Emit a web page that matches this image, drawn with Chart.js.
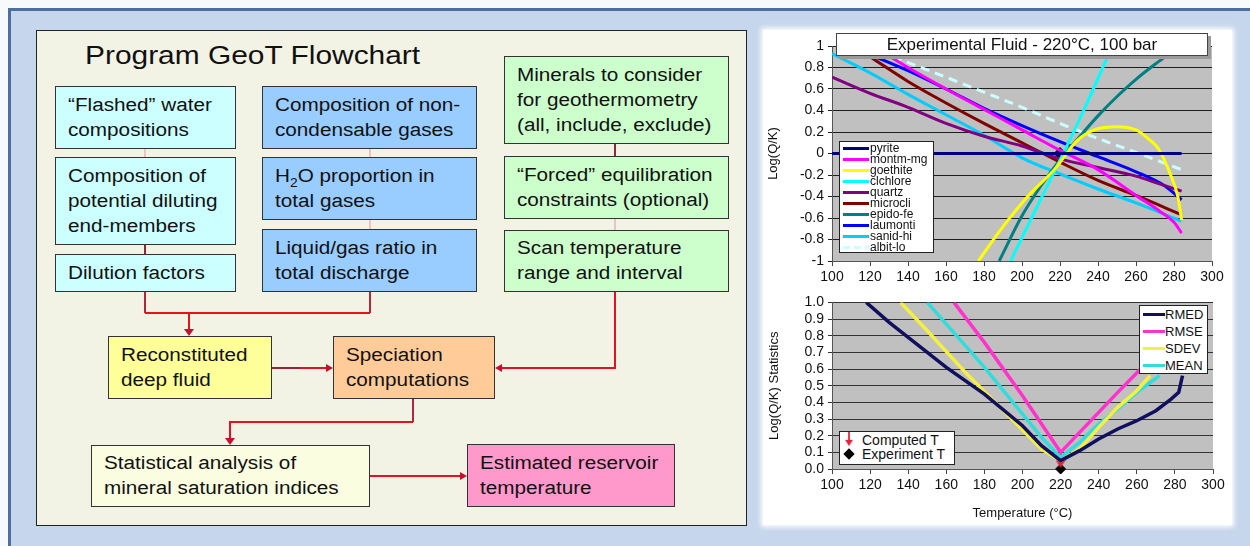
<!DOCTYPE html>
<html>
<head>
<meta charset="utf-8">
<script src="https://cdn.jsdelivr.net/npm/chart.js@4"></script>
<style>
body{margin:0;width:1250px;height:546px;overflow:hidden;background:#f7f9fb;font-family:"Liberation Sans",Arial,sans-serif;position:relative}
#frame{position:absolute;left:8px;top:8px;right:0;bottom:0;background:#c6d6ec;border-top:3px solid #4e6e9e;border-left:3px solid #4e6e9e}
#flow{position:absolute;left:36px;top:30px;width:709px;height:494px;background:#f3f3e5;border:1px solid #222}
#title{position:absolute;left:85px;top:38px;font-size:26px;line-height:34px;color:#111;transform:scaleX(1.15);transform-origin:left center;white-space:nowrap}
.box{position:absolute;border:1.5px solid #333;box-sizing:border-box;display:flex;align-items:center;padding-left:12px;font-size:18px;line-height:25px;color:#111;white-space:nowrap}
.box span{display:inline-block;transform:scaleX(1.15);transform-origin:left center}
#wires{position:absolute;left:0;top:0}
#panel{position:absolute;left:763px;top:30px;width:469px;height:495px;background:#fff;box-shadow:0 0 5px 2px #fff}
canvas{position:absolute}
.lg{position:absolute;background:#fff;border:1px solid #222;color:#111}
.lg .row{position:relative;white-space:nowrap}
.sw{position:absolute;left:3px;height:3px}
#chartTitle{position:absolute;left:836px;top:33px;width:372px;height:23px;box-sizing:border-box;background:#fff;border:1px solid #444;box-shadow:3px 3px 0 #9a9a9a;text-align:center;font-size:17px;line-height:21px;color:#111}
</style>
</head>
<body>
<div id="frame"></div>
<div id="flow"></div>
<div id="title">Program GeoT Flowchart</div>

<div class="box" style="left:55px;top:86px;width:181px;height:63px;background:#ccffff"><span>“Flashed” water<br>compositions</span></div>
<div class="box" style="left:55px;top:157px;width:181px;height:88px;background:#ccffff"><span>Composition of<br>potential diluting<br>end-members</span></div>
<div class="box" style="left:55px;top:254px;width:181px;height:38px;background:#ccffff"><span>Dilution factors</span></div>

<div class="box" style="left:262px;top:86px;width:215px;height:63px;background:#99ccff"><span>Composition of non-<br>condensable gases</span></div>
<div class="box" style="left:262px;top:157px;width:215px;height:63px;background:#99ccff"><span>H<sub style="font-size:12px;line-height:0">2</sub>O proportion in<br>total gases</span></div>
<div class="box" style="left:262px;top:229px;width:215px;height:63px;background:#99ccff"><span>Liquid/gas ratio in<br>total discharge</span></div>

<div class="box" style="left:504px;top:56px;width:225px;height:88px;background:#ccffcc"><span>Minerals to consider<br>for geothermometry<br>(all, include, exclude)</span></div>
<div class="box" style="left:504px;top:156px;width:225px;height:63px;background:#ccffcc"><span>“Forced” equilibration<br>constraints (optional)</span></div>
<div class="box" style="left:504px;top:230px;width:225px;height:62px;background:#ccffcc"><span>Scan temperature<br>range and interval</span></div>

<div class="box" style="left:108px;top:336px;width:164px;height:63px;background:#ffff99"><span>Reconstituted<br>deep fluid</span></div>
<div class="box" style="left:333px;top:336px;width:162px;height:63px;background:#ffcc99"><span>Speciation<br>computations</span></div>
<div class="box" style="left:91px;top:445px;width:279px;height:62px;background:#fbfde0"><span>Statistical analysis of<br>mineral saturation indices</span></div>
<div class="box" style="left:467px;top:444px;width:208px;height:63px;background:#ff99cc"><span>Estimated reservoir<br>temperature</span></div>

<svg id="wires" width="760" height="546">
  <g stroke-width="2" fill="none">
    <path d="M145 149V157M370 149V157M370 220V229M615 219V230" stroke="#e8c4c4"/>
    <path d="M145 245V254M615 144V156" stroke="#8a2a3a"/>
    <path d="M145 292V313M370 292V313" stroke="#b0283e"/>
    <path d="M145 313H370M189 313V330" stroke="#e8101e"/>
    <path d="M272 368H300" stroke="#9a2236"/>
    <path d="M300 368H328" stroke="#e8101e"/>
    <path d="M615 292V368H500" stroke="#e8101e"/>
    <path d="M413 399V422" stroke="#b0283e"/>
    <path d="M413 422H230V439" stroke="#e8101e"/>
    <path d="M370 476H462" stroke="#e8101e"/>
  </g>
  <g fill="#c8102e">
    <path d="M184 329H194L189 336Z"/>
    <path d="M326 364V372L333 368Z"/>
    <path d="M502 364V372L495 368Z"/>
    <path d="M225 438H235L230 445Z"/>
    <path d="M460 472V480L467 476Z"/>
  </g>
</svg>

<div id="panel"></div>
<canvas id="fluidChart" width="469" height="255" style="left:763px;top:30px"></canvas>
<canvas id="statChart" width="469" height="235" style="left:763px;top:290px"></canvas>
<div id="chartTitle">Experimental Fluid - 220°C, 100 bar</div>
<div id="fluidLegend" class="lg" style="left:839px;top:141px;width:95px;height:112px"></div>
<div id="statLegend" class="lg" style="left:1139px;top:305px;width:69px;height:69px"></div>
<div id="markLegend" class="lg" style="left:839px;top:431px;width:114px;height:32px"></div>

<script>
// ---- top chart: Log(Q/K) of each mineral vs temperature ----
const pyriteT = [100, 284];
const pyriteQK = [0, 0];
const montmT = [129, 140, 160, 180, 200, 220, 240, 260, 272, 280, 284];
const montmQK = [0.92, 0.80, 0.60, 0.41, 0.22, 0.03, -0.15, -0.39, -0.53, -0.64, -0.74];
const goethiteT = [177, 190, 203, 217, 229, 238, 250, 260, 267, 272, 278, 282, 284];
const goethiteQK = [-1, -0.68, -0.40, -0.15, 0.12, 0.22, 0.25, 0.22, 0.13, 0.04, -0.19, -0.40, -0.62];
const clchloreT = [194, 205, 215, 225, 235, 245, 248];
const clchloreQK = [-1, -0.6, -0.24, 0.12, 0.50, 0.90, 1.02];
const quartzT = [100, 120, 140, 160, 180, 200, 220, 240, 260, 272, 284];
const quartzQK = [0.71, 0.56, 0.43, 0.28, 0.16, 0.07, -0.05, -0.13, -0.21, -0.28, -0.35];
const microcliT = [120, 140, 160, 180, 200, 220, 240, 260, 284];
const microcliQK = [0.90, 0.67, 0.47, 0.28, 0.10, -0.08, -0.25, -0.39, -0.57];
const epidoT = [188, 200, 210, 220, 230, 240, 250, 260, 270, 280, 284];
const epidoQK = [-1, -0.58, -0.30, -0.06, 0.15, 0.35, 0.53, 0.69, 0.83, 0.96, 1.02];
const laumontiT = [120, 140, 160, 180, 200, 220, 240, 260, 275, 284];
const laumontiQK = [0.92, 0.77, 0.60, 0.42, 0.26, 0.11, -0.03, -0.17, -0.30, -0.43];
const sanidT = [100, 120, 140, 160, 180, 200, 220, 240, 260, 284];
const sanidQK = [0.93, 0.75, 0.55, 0.36, 0.17, -0.04, -0.19, -0.33, -0.46, -0.63];
const albitT = [132, 160, 180, 200, 220, 240, 260, 284];
const albitQK = [0.90, 0.71, 0.57, 0.43, 0.28, 0.14, 0.01, -0.15];

const mineralNames = ['pyrite', 'montm-mg', 'goethite', 'clchlore', 'quartz', 'microcli', 'epido-fe', 'laumonti', 'sanid-hi', 'albit-lo'];
const mineralT = [pyriteT, montmT, goethiteT, clchloreT, quartzT, microcliT, epidoT, laumontiT, sanidT, albitT];
const mineralQK = [pyriteQK, montmQK, goethiteQK, clchloreQK, quartzQK, microcliQK, epidoQK, laumontiQK, sanidQK, albitQK];
const mineralColors = ['#000080', '#ff00ff', '#ffff00', '#00ffff', '#800080', '#800000', '#008080', '#0000ff', '#00ccff', '#ccffff'];

const experimentT = 220;
const experimentQK = 0;

// ---- bottom chart: statistics vs temperature ----
const rmedT = [118, 130, 140, 160, 180, 200, 210, 220, 230, 240, 250, 260, 270, 278, 282, 284];
const rmedV = [1.0, 0.88, 0.79, 0.61, 0.45, 0.26, 0.14, 0.05, 0.11, 0.18, 0.24, 0.29, 0.35, 0.42, 0.46, 0.56];
const rmseT = [164, 180, 200, 210, 220, 230, 240, 250, 262, 268];
const rmseV = [1.0, 0.76, 0.44, 0.27, 0.10, 0.22, 0.34, 0.46, 0.60, 0.68];
const sdevT = [136, 150, 170, 190, 210, 220, 230, 240, 250, 260, 267];
const sdevV = [1.0, 0.83, 0.58, 0.35, 0.12, 0.05, 0.12, 0.25, 0.37, 0.47, 0.56];
const meanT = [150, 160, 170, 180, 190, 200, 210, 220, 230, 240, 250, 260, 272];
const meanV = [1.0, 0.87, 0.74, 0.61, 0.47, 0.33, 0.19, 0.07, 0.16, 0.27, 0.36, 0.46, 0.56];

const statNames = ['RMED', 'RMSE', 'SDEV', 'MEAN'];
const statT = [rmedT, rmseT, sdevT, meanT];
const statV = [rmedV, rmseV, sdevV, meanV];
const statColors = ['#10105e', '#ff33cc', '#f4f040', '#33dcdc'];

const computedT = 220;
const computedV = 0.06;

const tempTicks = [100, 120, 140, 160, 180, 200, 220, 240, 260, 280, 300];

const pts = (xs, ys) => xs.map((x, i) => ({ x: x, y: ys[i] }));

const plotBg = {
  id: 'plotBg',
  beforeDraw(c) {
    const a = c.chartArea, ctx = c.ctx;
    ctx.save();
    ctx.fillStyle = '#c0c0c0';
    ctx.fillRect(a.left, a.top, a.width, a.height);
    ctx.restore();
  }
};

// small red down-arrow used as point style
const arrow = document.createElement('canvas');
arrow.width = 10; arrow.height = 18;
(() => {
  const g = arrow.getContext('2d');
  g.strokeStyle = '#e8203a'; g.lineWidth = 2;
  g.beginPath(); g.moveTo(5, 0); g.lineTo(5, 11); g.stroke();
  g.fillStyle = '#e8203a';
  g.beginPath(); g.moveTo(0, 10); g.lineTo(10, 10); g.lineTo(5, 18); g.closePath(); g.fill();
})();

const tickFont = { family: '"Liberation Sans", Arial, sans-serif', size: 14 };
const titleFont = { family: '"Liberation Sans", Arial, sans-serif', size: 13 };

function xAxis(h, withTitle) {
  return {
    type: 'linear', min: 100, max: 300,
    afterBuildTicks: s => { s.ticks = tempTicks.map(v => ({ value: v })); },
    ticks: { font: tickFont, color: '#111', padding: 3, maxRotation: 0, autoSkip: false },
    grid: { drawOnChartArea: false, color: '#444', tickLength: 5 },
    border: { color: '#555' },
    title: withTitle ? { display: true, text: 'Temperature (°C)', font: titleFont, color: '#111', padding: { top: 6 } } : { display: false },
    afterFit: s => { s.height = h; }
  };
}

// top chart
new Chart(document.getElementById('fluidChart'), {
  type: 'line',
  data: {
    datasets: mineralNames.map((n, i) => ({
      label: n,
      data: pts(mineralT[i], mineralQK[i]),
      borderColor: mineralColors[i],
      borderWidth: 3,
      borderDash: n === 'albit-lo' ? [9, 6] : [],
      pointRadius: 0,
      cubicInterpolationMode: 'monotone',
      clip: 0
    })).concat([{
      label: 'Experiment T',
      data: [{ x: experimentT, y: experimentQK }],
      showLine: false,
      pointStyle: 'rectRot',
      pointRadius: 6,
      backgroundColor: '#000',
      borderColor: '#000'
    }])
  },
  options: {
    responsive: false,
    animation: false,
    layout: { padding: { top: 16, right: 20, left: 0, bottom: 0 } },
    plugins: { legend: { display: false }, tooltip: { enabled: false } },
    scales: {
      x: xAxis(24, false),
      y: {
        min: -1, max: 1,
        ticks: { stepSize: 0.2, autoSkip: false, font: tickFont, color: '#111', padding: 4, callback: v => String(Number(v.toFixed(1))) },
        grid: { color: '#1e1e1e', tickLength: 4 },
        border: { color: '#555' },
        title: { display: true, text: 'Log(Q/K)', font: titleFont, color: '#111', padding: { top: 3, bottom: 0 } },
        afterFit: s => { s.width = 69; }
      }
    }
  },
  plugins: [plotBg]
});

// bottom chart
new Chart(document.getElementById('statChart'), {
  type: 'line',
  data: {
    datasets: statNames.map((n, i) => ({
      label: n,
      data: pts(statT[i], statV[i]),
      borderColor: statColors[i],
      borderWidth: 3.5,
      pointRadius: 0,
      tension: 0,
      clip: 0
    })).concat([{
      label: 'Computed T',
      data: [{ x: computedT, y: computedV }],
      showLine: false,
      pointStyle: arrow
    }, {
      label: 'Experiment T',
      data: [{ x: experimentT, y: 0 }],
      showLine: false,
      pointStyle: 'rectRot',
      pointRadius: 5,
      backgroundColor: '#000',
      borderColor: '#000',
      clip: false
    }])
  },
  options: {
    responsive: false,
    animation: false,
    layout: { padding: { top: 11, right: 19, left: 0, bottom: 0 } },
    plugins: { legend: { display: false }, tooltip: { enabled: false } },
    scales: {
      x: xAxis(56, true),
      y: {
        min: 0, max: 1,
        ticks: { stepSize: 0.1, autoSkip: false, font: tickFont, color: '#111', padding: 4, callback: v => v.toFixed(1) },
        grid: { color: '#333', tickLength: 4 },
        border: { color: '#555' },
        title: { display: true, text: 'Log(Q/K) Statistics', font: titleFont, color: '#111', padding: { top: 4, bottom: 0 } },
        afterFit: s => { s.width = 69; }
      }
    }
  },
  plugins: [plotBg]
});

// legends built from series names and colours
function fillLegend(el, names, colors, rowH, fontSize, swW, textLeft, padTop) {
  el.style.paddingTop = padTop + 'px';
  el.style.boxSizing = 'border-box';
  names.forEach((n, i) => {
    const row = document.createElement('div');
    row.className = 'row';
    row.style.height = rowH + 'px';
    row.style.lineHeight = rowH + 'px';
    row.style.fontSize = fontSize + 'px';
    row.style.paddingLeft = textLeft + 'px';
    const sw = document.createElement('div');
    sw.className = 'sw';
    sw.style.width = swW + 'px';
    sw.style.top = (rowH / 2 - 1.5) + 'px';
    if (n === 'albit-lo') {
      sw.style.background = 'repeating-linear-gradient(90deg,' + colors[i] + ' 0 7px, transparent 7px 11px)';
    } else {
      sw.style.background = colors[i];
    }
    row.appendChild(sw);
    row.appendChild(document.createTextNode(n));
    el.appendChild(row);
  });
}
fillLegend(document.getElementById('fluidLegend'), mineralNames, mineralColors, 11, 12, 26, 30, 1);
fillLegend(document.getElementById('statLegend'), statNames, statColors, 17, 13, 22, 25, 0);

const mk = document.getElementById('markLegend');
mk.style.fontSize = '14px';
mk.innerHTML =
  '<div class="row" style="height:15px;line-height:16px;padding-left:22px"><img src="' + arrow.toDataURL() +
  '" style="position:absolute;left:5px;top:0;width:8px;height:14px">Computed T</div>' +
  '<div class="row" style="height:15px;line-height:15px;padding-left:22px"><div style="position:absolute;left:5px;top:3px;width:8px;height:8px;background:#000;transform:rotate(45deg)"></div>Experiment T</div>';
</script>
</body>
</html>
